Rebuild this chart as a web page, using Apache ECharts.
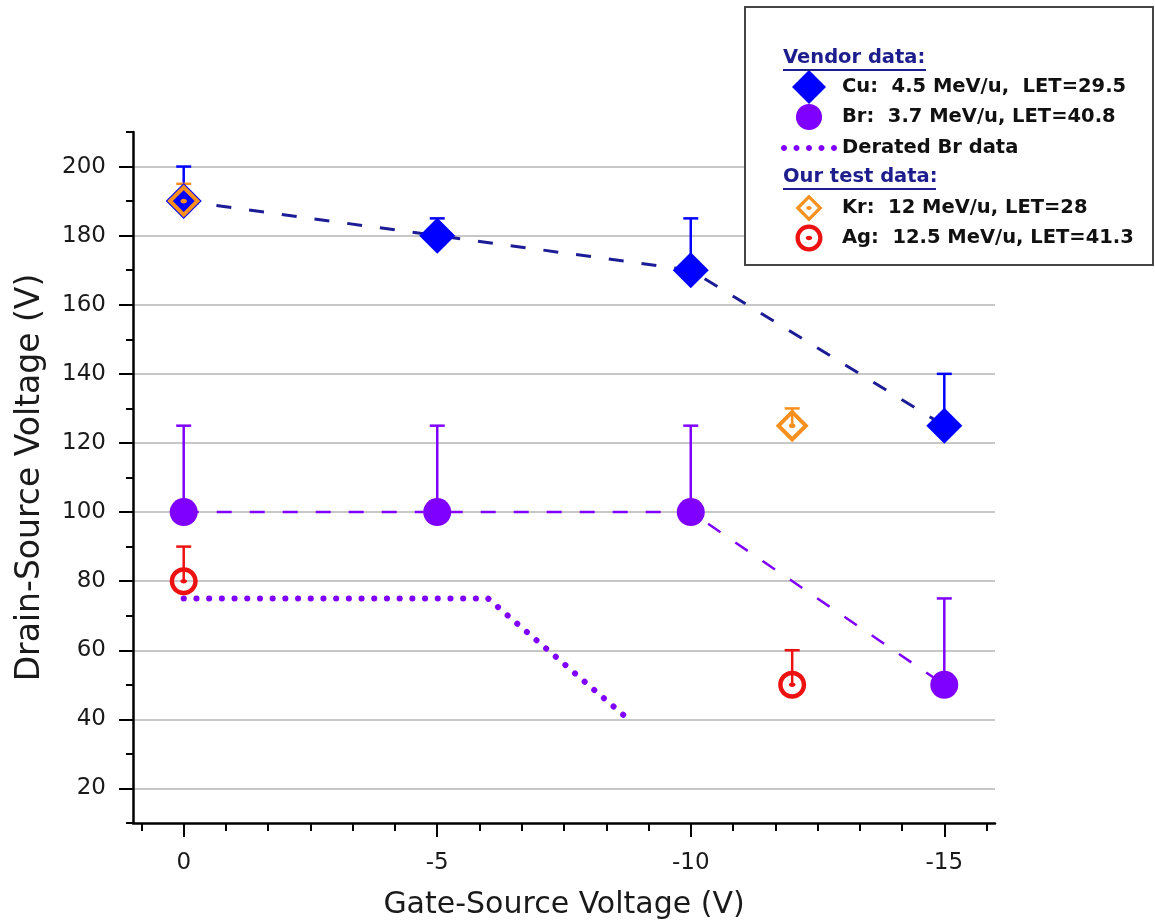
<!DOCTYPE html>
<html>
<head>
<meta charset="utf-8">
<script src="https://cdn.jsdelivr.net/npm/echarts@6/dist/echarts.min.js"></script>
<style>
  html, body { margin: 0; padding: 0; background: #ffffff; }
  #chart { width: 1155px; height: 922px; }
</style>
</head>
<body>
<div id="chart"></div>
<script>
// Gate-source voltage (V) of the vendor test points
const gateVoltage = [0, -5, -10, -15];

// Vendor Cu data: drain-source voltage and top of the error bar
const cuDrain = [190, 180, 170, 125];
const cuUpper = [200, 185, 185, 140];

// Vendor Br data
const brDrain = [100, 100, 100, 50];
const brUpper = [125, 125, 125, 75];

// Derated Br curve
const deratedGate = [0, -6, -8.85];
const deratedDrain = [75, 75, 39];

// Our Kr test data
const krGate = [0, -12];
const krDrain = [190, 125];
const krUpper = [195, 130];

// Our Ag test data
const agGate = [0, -12];
const agDrain = [80, 50];
const agUpper = [90, 60];

// Axis ticks
const xTickValues = [0, -5, -10, -15];
const yTickValues = [20, 40, 60, 80, 100, 120, 140, 160, 180, 200];
const yMinorTickValues = [10, 30, 50, 70, 90, 110, 130, 150, 170, 190, 210];
// six minor steps per major step of 5 V on the gate axis
const xMinorTickValues = [];
for (let k = -1; k <= 19; k++) {
  if (k % 6 !== 0) xMinorTickValues.push(-k * 5 / 6);
}

// Series names shown in the legend
const nameCu = 'Cu:  4.5 MeV/u,  LET=29.5';
const nameBr = 'Br:  3.7 MeV/u, LET=40.8';
const nameDerated = 'Derated Br data';
const nameKr = 'Kr:  12 MeV/u, LET=28';
const nameAg = 'Ag:  12.5 MeV/u, LET=41.3';

const FONT = '"DejaVu Sans", "Liberation Sans", Arial, sans-serif';
const C_CU = '#0000ff';
const C_CU_LINE = '#1c1c96';
const C_BR = '#8000ff';
const C_KR = '#f7901e';
const C_AG = '#ee1111';
const C_HEAD = '#1d1d8e';

// Symbols: filled diamond, hollow diamond with centre dot, ring with centre dot
const SYM_DIAMOND = 'path://M50 0L100 50L50 100L0 50Z';
const SYM_KR = 'path://M50 0L100 50L50 100L0 50Z' +
  'M50 17L17 50L50 83L83 50Z' +
  'M40 50C40 46.13 44.48 43 50 43C55.52 43 60 46.13 60 50C60 53.87 55.52 57 50 57C44.48 57 40 53.87 40 50Z';
const SYM_AG = 'path://M50 0C77.61 0 100 22.39 100 50C100 77.61 77.61 100 50 100C22.39 100 0 77.61 0 50C0 22.39 22.39 0 50 0Z' +
  'M50 16C31.22 16 16 31.22 16 50C16 68.78 31.22 84 50 84C68.78 84 84 68.78 84 50C84 31.22 68.78 16 50 16Z' +
  'M38 50C38 45.58 43.37 42 50 42C56.63 42 62 45.58 62 50C62 54.42 56.63 58 50 58C43.37 58 38 54.42 38 50Z';
// legend circle, padded top and bottom so it draws a little smaller than the diamond
const ICON_BR = 'path://M50 -15M50 115' +
  'M50 0C77.61 0 100 22.39 100 50C100 77.61 77.61 100 50 100C22.39 100 0 77.61 0 50C0 22.39 22.39 0 50 0Z';
// legend icon for the dotted curve: a row of five round dots
function dotRowPath() {
  let d = 'path://';
  for (let i = 0; i < 5; i++) {
    const cx = 3 + i * 12.5;
    d += 'M' + (cx - 3) + ' 3C' + (cx - 3) + ' 1.34 ' + (cx - 1.66) + ' 0 ' + cx + ' 0' +
      'C' + (cx + 1.66) + ' 0 ' + (cx + 3) + ' 1.34 ' + (cx + 3) + ' 3' +
      'C' + (cx + 3) + ' 4.66 ' + (cx + 1.66) + ' 6 ' + cx + ' 6' +
      'C' + (cx - 1.66) + ' 6 ' + (cx - 3) + ' 4.66 ' + (cx - 3) + ' 3Z';
  }
  return d;
}

function pairs(xs, ys) {
  return xs.map((x, i) => [x, ys[i]]);
}

// Upper error bars (vertical stem + cap) drawn through the axes
function errorBars(id, color, xs, ys, highs) {
  return {
    type: 'custom',
    name: id,
    silent: true,
    z: 3,
    encode: { x: 0, y: [1, 2] },
    data: xs.map((x, i) => [x, ys[i], highs[i]]),
    renderItem: function (params, api) {
      const p0 = api.coord([api.value(0), api.value(1)]);
      const p1 = api.coord([api.value(0), api.value(2)]);
      const half = 7.5;
      const st = { stroke: color, lineWidth: 2.5 };
      return {
        type: 'group',
        children: [
          { type: 'line', shape: { x1: p0[0], y1: p0[1], x2: p1[0], y2: p1[1] }, style: st },
          { type: 'line', shape: { x1: p1[0] - half, y1: p1[1], x2: p1[0] + half, y2: p1[1] }, style: st }
        ]
      };
    }
  };
}

const tickLabelStyle = { fontSize: 23, fontFamily: FONT, color: '#1a1a1a' };
const legendText = { fontSize: 19.5, fontWeight: 'bold', fontFamily: FONT, color: '#111111' };

// Legend column: icons are centred in a 56 px slot starting at x = 781.
// The block is placed by its drawn content, so narrower icons shift the block right.
const LEGEND_SLOT_LEFT = 781;
const LEGEND_SLOT_WIDTH = 56;
function legendBlock(top, itemHeight, gap, iconWidth, data) {
  return {
    orient: 'vertical',
    left: LEGEND_SLOT_LEFT + (LEGEND_SLOT_WIDTH - iconWidth) / 2,
    top: top, padding: 0,
    itemWidth: LEGEND_SLOT_WIDTH, itemHeight: itemHeight, itemGap: gap,
    selectedMode: false, z: 10,
    textStyle: legendText,
    data: data
  };
}

const chart = echarts.init(document.getElementById('chart'), null, { renderer: 'canvas' });

const option = {
  backgroundColor: '#ffffff',
  animation: false,
  grid: { left: 133, right: 160, top: 132, bottom: 99, outerBoundsMode: 'none', containLabel: false },
  xAxis: [
    {
      type: 'value', min: -16, max: 1, inverse: true, position: 'bottom',
      name: 'Gate-Source Voltage (V)', nameLocation: 'middle', nameGap: 67,
      nameTextStyle: { fontSize: 30, fontFamily: FONT, color: '#1a1a1a' },
      axisLine: { show: true, onZero: false, lineStyle: { color: '#000', width: 2.5 } },
      axisTick: { show: true, customValues: xTickValues, length: 14, lineStyle: { color: '#000', width: 2 } },
      axisLabel: Object.assign({ customValues: xTickValues, margin: 29 }, tickLabelStyle),
      splitLine: { show: false }
    },
    {
      type: 'value', min: -16, max: 1, inverse: true, position: 'bottom',
      axisLine: { show: false, onZero: false },
      axisTick: { show: true, customValues: xMinorTickValues, length: 8, lineStyle: { color: '#000', width: 2 } },
      axisLabel: { show: false },
      splitLine: { show: false }
    }
  ],
  yAxis: [
    {
      type: 'value', min: 10, max: 210, position: 'left',
      name: 'Drain-Source Voltage (V)', nameLocation: 'middle', nameGap: 86,
      nameTextStyle: { fontSize: 33, fontFamily: FONT, color: '#1a1a1a' },
      axisLine: { show: true, onZero: false, lineStyle: { color: '#000', width: 2.5 } },
      axisTick: { show: true, customValues: yTickValues, length: 14, lineStyle: { color: '#000', width: 2 } },
      axisLabel: Object.assign({ customValues: yTickValues, margin: 27 }, tickLabelStyle),
      splitLine: { show: true, lineStyle: { color: '#b4b4b4', width: 1.6 } }
    },
    {
      type: 'value', min: 10, max: 210, position: 'left',
      axisLine: { show: false, onZero: false },
      axisTick: { show: true, customValues: yMinorTickValues, length: 7, lineStyle: { color: '#000', width: 2 } },
      axisLabel: { show: false },
      splitLine: { show: false }
    }
  ],
  legend: [
    legendBlock(70, 34, -4, 34, [{ name: nameCu }, { name: nameBr, icon: ICON_BR }]),
    legendBlock(138, 34, 0, 56, [{ name: nameDerated, icon: dotRowPath() }]),
    legendBlock(194.5, 27, 3, 27, [nameKr, nameAg])
  ],
  graphic: [
    {
      type: 'rect', z: 5,
      shape: { x: 745, y: 7, width: 408, height: 258 },
      style: { fill: '#ffffff', stroke: '#454545', lineWidth: 2 }
    },
    {
      type: 'text', z: 11, x: 783, y: 58,
      style: { text: 'Vendor data:', fill: C_HEAD, font: 'bold 19.5px ' + FONT, verticalAlign: 'middle' }
    },
    {
      type: 'line', z: 11,
      shape: { x1: 783, y1: 70, x2: 926, y2: 70 },
      style: { stroke: C_HEAD, lineWidth: 2 }
    },
    {
      type: 'text', z: 11, x: 783, y: 177,
      style: { text: 'Our test data:', fill: C_HEAD, font: 'bold 19.5px ' + FONT, verticalAlign: 'middle' }
    },
    {
      type: 'line', z: 11,
      shape: { x1: 783, y1: 189, x2: 936, y2: 189 },
      style: { stroke: C_HEAD, lineWidth: 2 }
    }
  ],
  series: [
    // error bars sit underneath the markers
    errorBars('Cu error', C_CU, gateVoltage, cuDrain, cuUpper),
    errorBars('Br error', C_BR, gateVoltage, brDrain, brUpper),
    errorBars('Kr error', C_KR, krGate, krDrain, krUpper),
    errorBars('Ag error', C_AG, agGate, agDrain, agUpper),
    {
      type: 'line', name: 'Cu trend', silent: true, z: 2,
      data: pairs(gateVoltage, cuDrain), symbol: 'none',
      lineStyle: { color: C_CU_LINE, width: 3, type: [15, 18] }
    },
    {
      type: 'line', name: 'Br trend', silent: true, z: 2,
      data: pairs(gateVoltage, brDrain), symbol: 'none',
      lineStyle: { color: C_BR, width: 2.5, type: [15, 18] }
    },
    {
      type: 'line', name: nameDerated, silent: true, z: 2,
      data: pairs(deratedGate, deratedDrain), symbol: 'none',
      itemStyle: { color: C_BR },
      lineStyle: { color: C_BR, width: 6, type: [0.1, 12.6], cap: 'round' }
    },
    {
      type: 'scatter', name: nameCu, z: 4,
      data: pairs(gateVoltage, cuDrain),
      symbol: SYM_DIAMOND, symbolSize: 36,
      itemStyle: { color: C_CU, opacity: 1 }
    },
    {
      type: 'scatter', name: nameBr, z: 4,
      data: pairs(gateVoltage, brDrain),
      symbol: 'circle', symbolSize: 28,
      itemStyle: { color: C_BR, opacity: 1 }
    },
    {
      type: 'scatter', name: nameKr, z: 5,
      data: pairs(krGate, krDrain),
      symbol: SYM_KR, symbolSize: 33,
      itemStyle: { color: C_KR, opacity: 1 }
    },
    {
      type: 'scatter', name: nameAg, z: 5,
      data: pairs(agGate, agDrain),
      symbol: SYM_AG, symbolSize: 28,
      itemStyle: { color: C_AG, opacity: 1 }
    }
  ]
};

chart.setOption(option);
</script>
</body>
</html>
